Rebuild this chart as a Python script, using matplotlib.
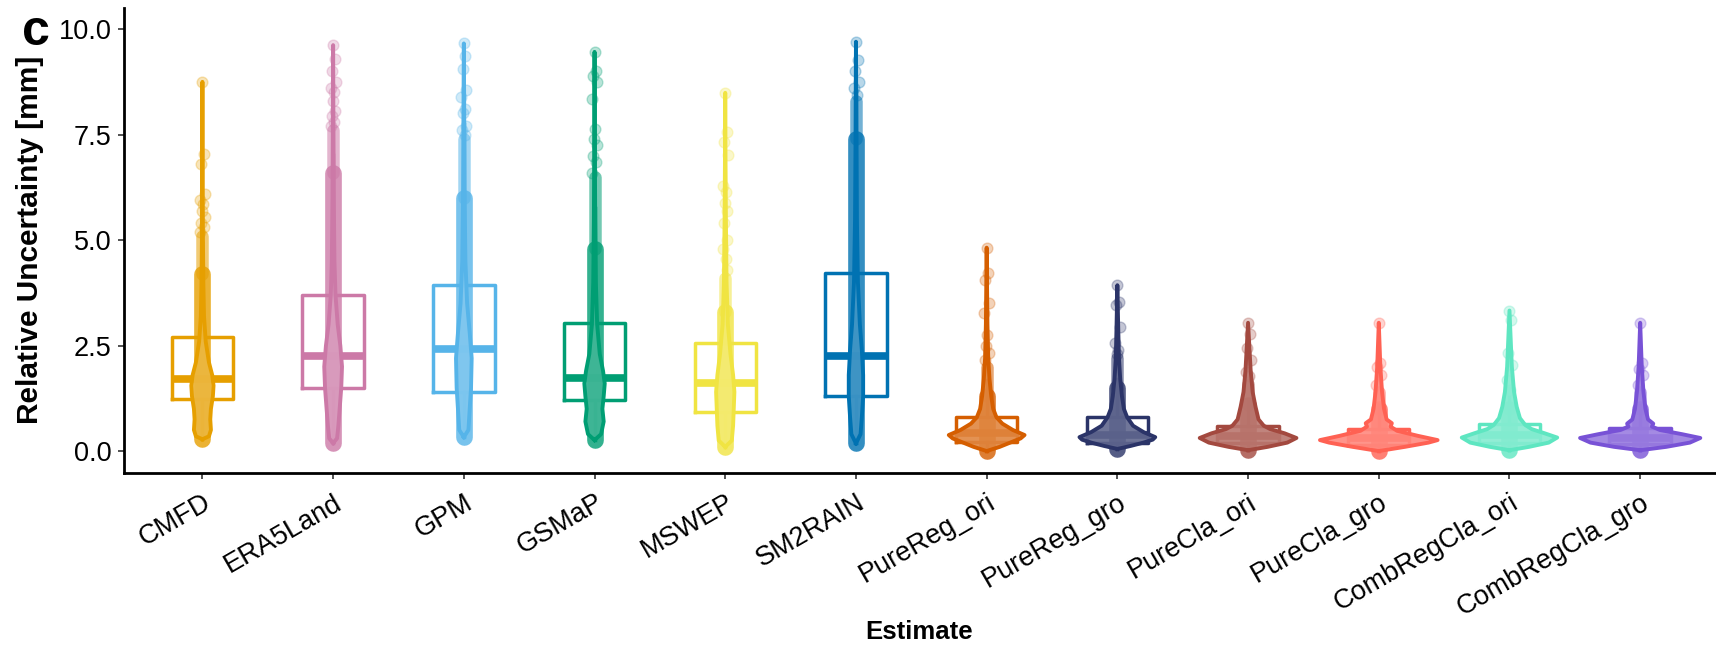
"""Relative uncertainty per estimate: violin + box + points (panel c)."""
import numpy as np
import matplotlib
matplotlib.use("Agg")
import matplotlib.pyplot as plt
from matplotlib.colors import to_rgb

plt.rcParams["font.family"] = ["Liberation Sans", "DejaVu Sans"]

# === Data ===
estimates = ["CMFD", "ERA5Land", "GPM", "GSMaP", "MSWEP", "SM2RAIN",
             "PureReg_ori", "PureReg_gro", "PureCla_ori", "PureCla_gro",
             "CombRegCla_ori", "CombRegCla_gro"]
colors = ["#E69F00", "#CC79A7", "#56B4E9", "#009E73", "#F0E442", "#0072B2",
          "#D55E00", "#2B3468", "#A3493F", "#FF6153", "#5EE6C1", "#7852D6"]

# box statistics
q1 = [1.23, 1.49, 1.39, 1.21, 0.93, 1.31, 0.22, 0.20, 0.19, 0.15, 0.20, 0.17]
median = [1.71, 2.25, 2.42, 1.74, 1.61, 2.25, 0.42, 0.38, 0.35, 0.30, 0.37, 0.32]
q3 = [2.71, 3.70, 3.93, 3.03, 2.55, 4.21, 0.81, 0.80, 0.59, 0.53, 0.63, 0.54]
vmin = [0.28, 0.19, 0.33, 0.26, 0.10, 0.18, 0.00, 0.05, 0.02, 0.00, 0.02, 0.02]
vmax = [8.75, 9.62, 9.66, 9.46, 8.49, 9.70, 4.82, 3.93, 3.04, 3.04, 3.33, 3.04]

# violin outlines: levels and half widths (category units)
violin_y = [
    [0.28, 0.35, 0.5, 0.75, 1.0, 1.3, 1.55, 1.8, 2.1, 2.6, 3.2, 4.0, 5.0, 6.5, 8.75],
    [0.19, 0.3, 0.6, 1.0, 1.5, 2.0, 2.5, 3.0, 3.7, 4.5, 6.0, 8.0, 9.62],
    [0.33, 0.5, 1.0, 1.5, 2.2, 2.8, 3.5, 4.5, 6.0, 8.0, 9.66],
    [0.26, 0.4, 0.7, 1.0, 1.3, 1.6, 1.9, 2.3, 3.0, 4.0, 5.5, 7.5, 9.46],
    [0.10, 0.25, 0.6, 1.0, 1.4, 1.8, 2.3, 3.0, 4.0, 5.5, 7.0, 8.49],
    [0.18, 0.4, 0.8, 1.3, 1.8, 2.4, 3.0, 4.0, 5.5, 7.5, 9.70],
    [0.0, 0.1, 0.2, 0.3, 0.38, 0.5, 0.65, 0.8, 1.0, 1.3, 1.7, 2.2, 3.0, 4.82],
    [0.05, 0.12, 0.2, 0.27, 0.33, 0.45, 0.6, 0.8, 1.0, 1.3, 1.7, 2.2, 3.0, 3.93],
    [0.02, 0.1, 0.2, 0.31, 0.42, 0.52, 0.6, 0.75, 1.05, 1.4, 1.9, 3.04],
    [0.0, 0.1, 0.2, 0.26, 0.36, 0.48, 0.58, 0.66, 0.75, 1.0, 1.4, 2.0, 3.04],
    [0.02, 0.1, 0.2, 0.32, 0.42, 0.52, 0.62, 0.78, 1.05, 1.4, 2.0, 3.33],
    [0.02, 0.1, 0.2, 0.31, 0.4, 0.5, 0.58, 0.65, 0.75, 1.0, 1.4, 2.0, 3.04],
]
violin_hw = [
    [0.0, 0.05, 0.065, 0.06, 0.065, 0.08, 0.085, 0.075, 0.05, 0.025, 0.012, 0.007, 0.004, 0.002, 0.0],
    [0.0, 0.03, 0.04, 0.05, 0.062, 0.068, 0.055, 0.035, 0.018, 0.01, 0.005, 0.002, 0.0],
    [0.0, 0.035, 0.045, 0.055, 0.06, 0.045, 0.025, 0.012, 0.006, 0.003, 0.0],
    [0.0, 0.05, 0.07, 0.06, 0.07, 0.078, 0.065, 0.04, 0.02, 0.01, 0.005, 0.002, 0.0],
    [0.0, 0.05, 0.06, 0.065, 0.07, 0.06, 0.04, 0.02, 0.01, 0.005, 0.002, 0.0],
    [0.0, 0.035, 0.045, 0.055, 0.055, 0.045, 0.03, 0.015, 0.007, 0.003, 0.0],
    [0.0, 0.1, 0.18, 0.26, 0.29, 0.2, 0.12, 0.075, 0.05, 0.035, 0.022, 0.012, 0.006, 0.0],
    [0.0, 0.1, 0.2, 0.27, 0.29, 0.2, 0.12, 0.075, 0.05, 0.035, 0.022, 0.012, 0.006, 0.0],
    [0.0, 0.15, 0.3, 0.37, 0.28, 0.17, 0.12, 0.08, 0.057, 0.035, 0.02, 0.0],
    [0.0, 0.2, 0.38, 0.45, 0.3, 0.14, 0.09, 0.1, 0.06, 0.04, 0.025, 0.012, 0.0],
    [0.0, 0.15, 0.3, 0.365, 0.27, 0.17, 0.12, 0.08, 0.055, 0.035, 0.018, 0.0],
    [0.0, 0.2, 0.38, 0.46, 0.32, 0.15, 0.09, 0.1, 0.06, 0.04, 0.025, 0.012, 0.0],
]

# dense part of the point cloud: lower end, top of the solid core, upper end
dense_lo = [0.28, 0.19, 0.33, 0.26, 0.10, 0.18, 0.00, 0.05, 0.02, 0.00, 0.02, 0.02]
dense_mid = [4.2, 6.6, 6.0, 4.8, 3.3, 7.4, 1.3, 1.5, 1.1, 1.0, 1.0, 1.0]
dense_hi = [5.1, 7.6, 7.4, 6.5, 4.1, 8.3, 2.0, 2.2, 1.6, 1.4, 1.4, 1.4]

# individually visible points above the dense part
sparse_pts = [
    [8.75, 7.03, 6.8, 6.1, 5.95, 5.85, 5.7, 5.55, 5.4, 5.3, 5.2],
    [9.62, 9.3, 9.0, 8.75, 8.6, 8.5, 8.3, 8.05, 7.95, 7.8, 7.7],
    [9.66, 9.36, 9.05, 8.55, 8.4, 8.1, 8.0, 7.7, 7.6, 7.5],
    [9.46, 9.0, 8.9, 8.75, 8.35, 7.64, 7.4, 7.25, 7.0, 6.85, 6.6],
    [8.49, 7.57, 7.33, 7.02, 6.27, 6.15, 5.88, 5.68, 5.41, 5.0, 4.8, 4.55, 4.3],
    [9.7, 9.27, 9.0, 8.75, 8.6, 8.45],
    [4.82, 4.21, 4.05, 3.5, 3.27, 2.75, 2.5, 2.32, 2.15],
    [3.93, 3.54, 3.45, 2.95, 2.55, 2.4, 2.3],
    [3.04, 2.77, 2.44, 2.16, 1.88, 1.78],
    [3.04, 2.08, 2.0, 1.8, 1.56],
    [3.33, 3.1, 2.32, 2.04, 1.68, 1.45],
    [3.04, 2.08, 1.95, 1.8, 1.56],
]

# horizontal spread pattern for the visible points
JITTER = [0.0, 0.012, -0.01, 0.02, -0.018, 0.006, -0.004, 0.016, -0.012, 0.01, -0.02, 0.003, 0.014]


def tint(c, f):
    r = np.array(to_rgb(c))
    return tuple(r + (1 - r) * f)


# === Plotting ===
fig = plt.figure(figsize=(17.16, 6.64), dpi=100)
ax = fig.add_axes([124 / 1716, 191 / 664, 1592 / 1716, 465 / 664])

pos = np.arange(1, len(estimates) + 1)

for i, p in enumerate(pos):
    col = colors[i]
    # points: solid core, thinner upper part, single points
    ax.vlines(p, dense_lo[i], dense_mid[i], color=col, lw=12, alpha=0.8,
              capstyle="round", zorder=1)
    ax.vlines(p, dense_mid[i], dense_hi[i], color=col, lw=9, alpha=0.55,
              capstyle="round", zorder=1)
    xs = [p + JITTER[k % len(JITTER)] for k in range(len(sparse_pts[i]))]
    ax.scatter(xs, sparse_pts[i], s=60, color=col, alpha=0.28, lw=1.0, zorder=1)

    # box
    iqr = q3[i] - q1[i]
    st = dict(med=median[i], q1=q1[i], q3=q3[i],
              whislo=max(vmin[i], q1[i] - 1.5 * iqr),
              whishi=min(vmax[i], q3[i] + 1.5 * iqr))
    ax.bxp([st], positions=[p], widths=0.47, showfliers=False, showcaps=False,
           manage_ticks=False,
           boxprops=dict(color=col, lw=2.5),
           whiskerprops=dict(color=col, lw=2.5),
           medianprops=dict(color=col, lw=5.5, solid_capstyle="butt"),
           zorder=2)

    # violin
    vy = np.array(violin_y[i])
    hw = np.array(violin_hw[i])
    ax.fill_betweenx(vy, p - hw, p + hw, facecolor=tint(col, 0.25), alpha=0.9,
                     edgecolor="none", zorder=3)
    ax.plot(np.concatenate([p - hw, (p + hw)[::-1]]), np.concatenate([vy, vy[::-1]]),
            color=col, lw=2.8, solid_joinstyle="round", zorder=4)

ax.set_xlim(0.4, 12.58)
ax.set_ylim(-0.52, 10.5)
ax.set_yticks([0.0, 2.5, 5.0, 7.5, 10.0])
ax.set_yticklabels(["0.0", "2.5", "5.0", "7.5", "10.0"])
ax.set_xticks(pos)
ax.set_xticklabels(estimates, rotation=30, ha="right", rotation_mode="anchor")

for s in ["top", "right"]:
    ax.spines[s].set_visible(False)
for s in ["left", "bottom"]:
    ax.spines[s].set_linewidth(2.0)
    ax.spines[s].set_color("black")
ax.tick_params(axis="both", length=4, width=1.2, color="#333333", labelsize=19.5,
               labelcolor="black")
ax.tick_params(axis="y", pad=5)
ax.tick_params(axis="x", pad=8)

fig.text(30 / 1716, 1 - 240 / 664, "Relative Uncertainty [mm]", rotation=90,
         ha="center", va="center", fontsize=21.5, fontweight="bold")
fig.text(919 / 1716, 1 - 632 / 664, "Estimate", ha="center", va="center",
         fontsize=18.5, fontweight="bold")
fig.text(36 / 1716, 1 - 32 / 664, "c", ha="center", va="center",
         fontsize=36, fontweight="bold")

fig.savefig("out.png", dpi=100)
plt.close("all")
